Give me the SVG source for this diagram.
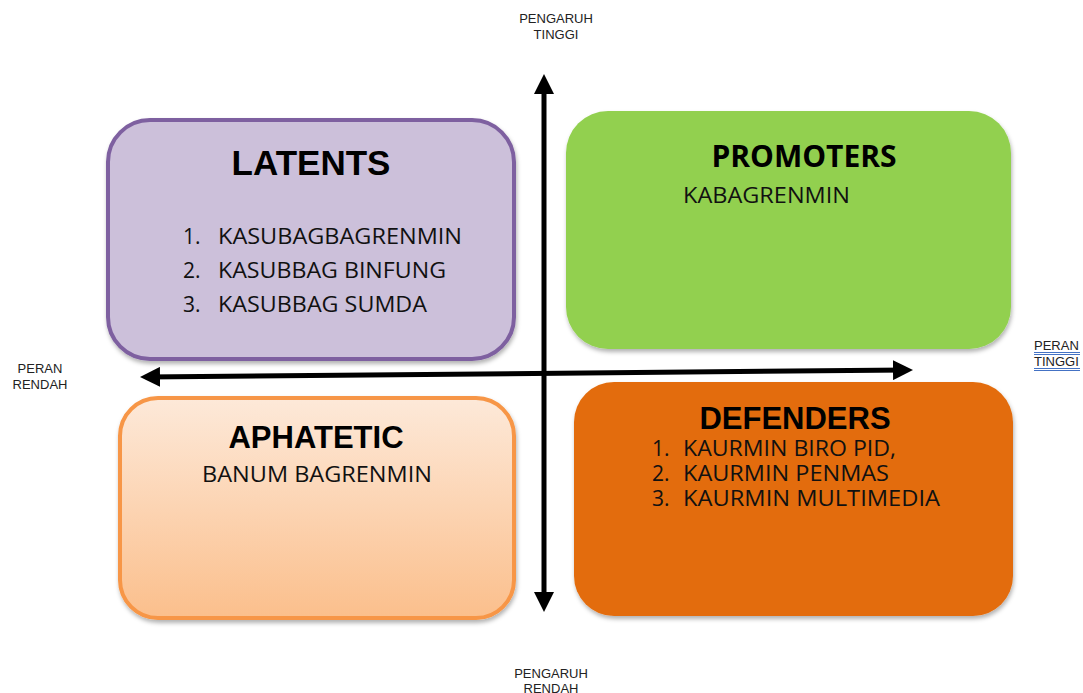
<svg xmlns="http://www.w3.org/2000/svg" width="1083" height="693" viewBox="0 0 1083 693">
<style>
.ax{font-family:"Liberation Sans",Arial,sans-serif;font-size:13px;fill:#222;}
.t1{font-family:"Liberation Sans",Arial,sans-serif;font-weight:bold;font-size:31px;fill:#000;}
.t2{font-family:"Open Sans","Noto Sans",sans-serif;font-weight:bold;font-size:30px;fill:#000;}
.it{font-family:"Open Sans","Noto Sans",sans-serif;font-size:21px;fill:#111;}
.conn{stroke:#000;stroke-width:5;fill:none;}
</style>
<defs>
<linearGradient id="gOr" x1="0" y1="0" x2="0" y2="1">
<stop offset="0" stop-color="#fde9d9"/>
<stop offset="1" stop-color="#fbbf8c"/>
</linearGradient>
<filter id="sh" x="-5%" y="-5%" width="110%" height="115%">
<feDropShadow dx="1" dy="3" stdDeviation="2" flood-color="#000" flood-opacity="0.3"/>
</filter>
<marker id="ah" viewBox="0 0 10 10" refX="7" refY="5" markerWidth="4" markerHeight="4" orient="auto-start-reverse" markerUnits="strokeWidth">
<path d="M0,0 L10,5 L0,10 z" fill="#000"/>
</marker>
</defs>
<g id="latents">
<rect x="108" y="120" width="406" height="239" rx="42" fill="#ccc0da" stroke="#7e60a0" stroke-width="4" filter="url(#sh)"/>
<text class="t1" x="311" y="175" text-anchor="middle" style="font-size:35px">LATENTS</text>
<text class="it" x="183" y="244">1.</text><text class="it" x="218" y="244" textLength="244" lengthAdjust="spacingAndGlyphs">KASUBAGBAGRENMIN</text>
<text class="it" x="183" y="278">2.</text><text class="it" x="218" y="278" textLength="228" lengthAdjust="spacingAndGlyphs">KASUBBAG BINFUNG</text>
<text class="it" x="183" y="312">3.</text><text class="it" x="218" y="312" textLength="209" lengthAdjust="spacingAndGlyphs">KASUBBAG SUMDA</text>
</g>
<g id="promoters">
<rect x="566" y="111" width="445" height="238" rx="42" fill="#92d050" filter="url(#sh)"/>
<text class="t2" x="804" y="167" text-anchor="middle">PROMOTERS</text>
<text class="it" x="683" y="203" textLength="167" lengthAdjust="spacingAndGlyphs">KABAGRENMIN</text>
</g>
<g id="aphatetic">
<rect x="120" y="398" width="394" height="220" rx="38" fill="url(#gOr)" stroke="#f79646" stroke-width="4" filter="url(#sh)"/>
<text class="t1" x="316" y="448" text-anchor="middle">APHATETIC</text>
<text class="it" x="202" y="482" textLength="230" lengthAdjust="spacingAndGlyphs">BANUM BAGRENMIN</text>
</g>
<g id="defenders">
<rect x="574" y="382" width="439" height="234" rx="40" fill="#e36c0a" filter="url(#sh)"/>
<text class="t1" x="795" y="429" text-anchor="middle">DEFENDERS</text>
<text class="it" x="652" y="456">1.</text><text class="it" x="683" y="456" textLength="213" lengthAdjust="spacingAndGlyphs">KAURMIN BIRO PID,</text>
<text class="it" x="652" y="481">2.</text><text class="it" x="683" y="481" textLength="206" lengthAdjust="spacingAndGlyphs">KAURMIN PENMAS</text>
<text class="it" x="652" y="506">3.</text><text class="it" x="683" y="506" textLength="257" lengthAdjust="spacingAndGlyphs">KAURMIN MULTIMEDIA</text>
</g>
<g id="connectors">
<line class="conn" x1="544" y1="606" x2="544" y2="80" marker-start="url(#ah)" marker-end="url(#ah)"/>
<line class="conn" x1="146" y1="377" x2="907" y2="370" marker-start="url(#ah)" marker-end="url(#ah)"/>
</g>
<g id="labels">
<text class="ax" x="556" y="23" text-anchor="middle">PENGARUH</text>
<text class="ax" x="556" y="39" text-anchor="middle">TINGGI</text>
<text class="ax" x="40" y="373" text-anchor="middle">PERAN</text>
<text class="ax" x="40" y="389" text-anchor="middle">RENDAH</text>
<text class="ax" x="1034" y="350">PERAN</text>
<text class="ax" x="1034" y="366">TINGGI</text>
<path d="M1034,352.5 H1080 M1034,354.5 H1080 M1034,368.5 H1080 M1034,370.5 H1080" stroke="#4472c4" stroke-width="1" fill="none"/>
<text class="ax" x="551" y="678" text-anchor="middle">PENGARUH</text>
<text class="ax" x="551" y="693" text-anchor="middle">RENDAH</text>
</g>
</svg>
